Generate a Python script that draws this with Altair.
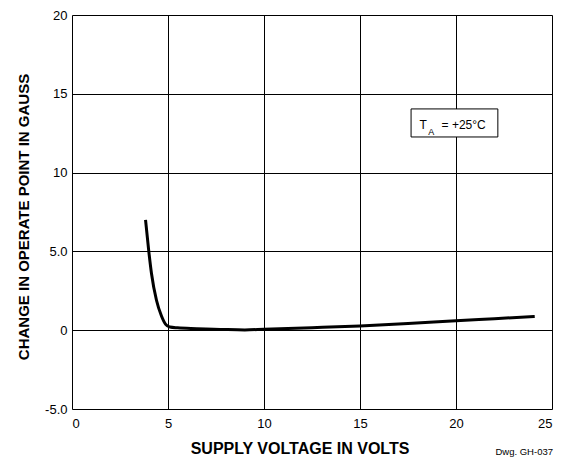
import altair as alt
import pandas as pd

# Curve data
volts = [3.83, 4.0, 4.14, 4.4, 4.66, 4.88, 5.1, 5.5, 6.5, 8.0, 9.0, 10.0, 12.5, 15.0, 17.5, 20.0, 22.0, 24.1]
gauss = [7.0, 5.0, 3.6, 1.9, 0.9, 0.37, 0.2, 0.15, 0.1, 0.04, 0.02, 0.06, 0.16, 0.27, 0.42, 0.6, 0.73, 0.87]

x_ticks = [0, 5, 10, 15, 20, 25]
y_ticks = [-5, 0, 5, 10, 15, 20]
y_tick_labels = ["-5.0", "0", "5.0", "10", "15", "20"]

# annotation box (data units)
box_x = [17.66]
box_x2 = [22.18]
box_y = [14.04]
box_y2 = [12.26]
ann_parts = ["T", "A", "= +25°C"]
ann_x = [18.1, 18.55, 19.25]
ann_y = [12.75, 12.39, 12.75]
ann_size = [12, 9, 12]

FONT = "Liberation Sans"

df = pd.DataFrame({"v": volts, "g": gauss})
box_df = pd.DataFrame({"x": box_x, "x2": box_x2, "y": box_y, "y2": box_y2})
ann_df = pd.DataFrame({"t": ann_parts, "x": ann_x, "y": ann_y, "s": ann_size})
dwg_df = pd.DataFrame({"t": ["Dwg. GH-037"]})

label_expr = " : ".join(
    [f"datum.value == {v} ? '{l}'" for v, l in zip(y_ticks, y_tick_labels)]
) + " : datum.label"

xs = alt.Scale(domain=[0, 25], nice=False, zero=False)
ys = alt.Scale(domain=[-5, 20], nice=False, zero=False)

xaxis = alt.Axis(
    values=x_ticks, grid=True, gridColor="black", gridWidth=1, gridOpacity=1,
    domain=False, ticks=False, labelFont=FONT, labelFontSize=13, labelColor="black",
    labelPadding=8, title="SUPPLY VOLTAGE IN VOLTS", titleFont=FONT, titleFontSize=16,
    titleFontWeight="bold", titleColor="black", titlePadding=10, titleX=227.5,
)
yaxis = alt.Axis(
    values=y_ticks, grid=True, gridColor="black", gridWidth=1, gridOpacity=1,
    domain=False, ticks=False, labelFont=FONT, labelFontSize=13, labelColor="black",
    labelPadding=5, labelExpr=label_expr,
    title="CHANGE IN OPERATE POINT IN GAUSS", titleFont=FONT, titleFontSize=15,
    titleFontWeight="bold", titleColor="black", titlePadding=13, titleY=201.5,
)

line = alt.Chart(df).mark_line(color="black", strokeWidth=3, interpolate="monotone").encode(
    x=alt.X("v:Q", scale=xs, axis=xaxis),
    y=alt.Y("g:Q", scale=ys, axis=yaxis),
)

box = alt.Chart(box_df).mark_rect(fill="white", stroke="black", strokeWidth=1).encode(
    x=alt.X("x:Q", scale=xs), x2="x2:Q", y=alt.Y("y:Q", scale=ys), y2="y2:Q"
)

ann = alt.Chart(ann_df).mark_text(font=FONT, align="left", baseline="alphabetic", color="black").encode(
    x=alt.X("x:Q", scale=xs), y=alt.Y("y:Q", scale=ys), text="t:N",
    size=alt.Size("s:Q", scale=None, legend=None),
)

dwg = alt.Chart(dwg_df).mark_text(font=FONT, fontSize=9.5, align="right", baseline="alphabetic", color="black").encode(
    x=alt.value(481), y=alt.value(440), text="t:N"
)

chart = alt.layer(line, box, ann, dwg).properties(
    width=480, height=394,
    autosize=alt.AutoSizeParams(type="none"),
    padding={"left": 64, "top": 7, "right": 8, "bottom": 56},
).configure_view(stroke="black", strokeWidth=2).configure(background="white")

chart.save("out.html", embed_options={"renderer": "svg", "actions": False})
